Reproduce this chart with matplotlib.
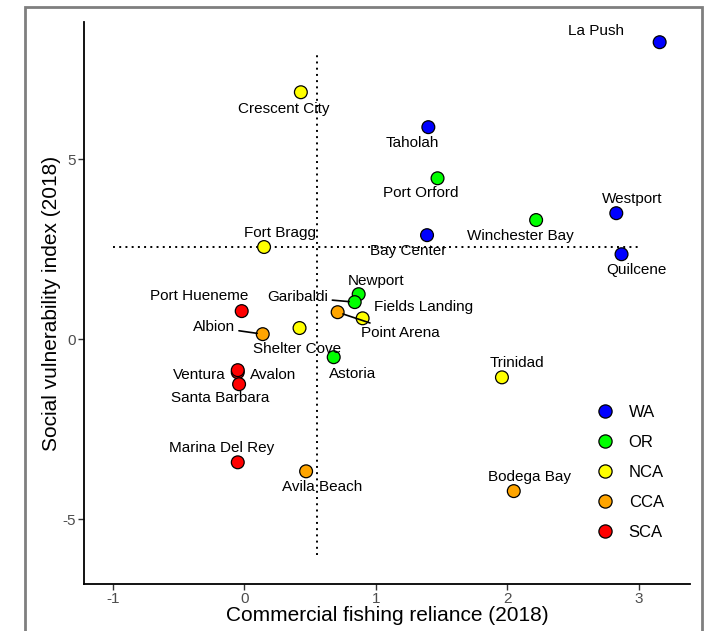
import numpy as np
import matplotlib
matplotlib.use("Agg")
import matplotlib.pyplot as plt
from matplotlib.patches import Rectangle
from matplotlib.lines import Line2D

plt.rcParams['font.family'] = ['Liberation Sans', 'DejaVu Sans']
plt.rcParams['axes.unicode_minus'] = False

# community, commercial fishing reliance, social vulnerability, region
names = ['La Push', 'Crescent City', 'Taholah', 'Port Orford', 'Westport',
         'Winchester Bay', 'Bay Center', 'Quilcene', 'Fort Bragg', 'Newport',
         'Garibaldi', 'Fields Landing', 'Point Arena', 'Port Hueneme', 'Albion',
         'Shelter Cove', 'Astoria', 'Avalon', 'Ventura', 'Santa Barbara',
         'Trinidad', 'Marina Del Rey', 'Avila Beach', 'Bodega Bay']
reliance = [3.16, 0.43, 1.40, 1.47, 2.83,
            2.22, 1.39, 2.87, 0.15, 0.87,
            0.84, 0.90, 0.71, -0.02, 0.14,
            0.42, 0.68, -0.05, -0.05, -0.04,
            1.96, -0.05, 0.47, 2.05]
vulnerability = [8.25, 6.86, 5.89, 4.47, 3.50,
                 3.31, 2.89, 2.36, 2.56, 1.25,
                 1.03, 0.58, 0.75, 0.78, 0.14,
                 0.31, -0.50, -0.92, -0.86, -1.25,
                 -1.06, -3.42, -3.67, -4.22]
region = ['WA', 'NCA', 'WA', 'OR', 'WA',
          'OR', 'WA', 'WA', 'NCA', 'OR',
          'OR', 'NCA', 'CCA', 'SCA', 'CCA',
          'NCA', 'OR', 'SCA', 'SCA', 'SCA',
          'NCA', 'SCA', 'CCA', 'CCA']

regions = ['WA', 'OR', 'NCA', 'CCA', 'SCA']
region_colors = {'WA': '#0000FF', 'OR': '#00FF00', 'NCA': '#FFFF00',
                 'CCA': '#FFA500', 'SCA': '#FF0000'}

# median split lines
x_split = 0.55
y_split = 2.55

# label offsets in pixels (dx, dy), some with leader lines
offsets = {
    'La Push': (-64, 11), 'Crescent City': (-17, -17), 'Taholah': (-16, -16),
    'Port Orford': (-17, -15), 'Westport': (16, 14), 'Winchester Bay': (-16, -16),
    'Bay Center': (-19, -16), 'Quilcene': (15, -16), 'Fort Bragg': (16, 14),
    'Newport': (17, 13), 'Garibaldi': (-57, 5), 'Fields Landing': (61, 11),
    'Point Arena': (63, -21), 'Port Hueneme': (-43, 15), 'Albion': (-49, 7),
    'Shelter Cove': (-2, -21), 'Astoria': (19, -17), 'Ventura': (-38, -5),
    'Avalon': (35, -3), 'Santa Barbara': (-19, -14), 'Trinidad': (15, 14),
    'Marina Del Rey': (-16, 14), 'Avila Beach': (16, -16), 'Bodega Bay': (16, 14),
}
leaders = ['Garibaldi', 'Point Arena', 'Albion']

fig = plt.figure(figsize=(7.07, 6.31), dpi=100)
ax = fig.add_axes([0.1188, 0.0745, 0.857, 0.89])

ax.plot([x_split, x_split], [-6, 8], color='black', lw=1.4, dashes=(1, 2.2), zorder=1)
ax.plot([-1, 3], [y_split, y_split], color='black', lw=1.4, dashes=(1, 2.2), zorder=1)

cols = [region_colors[r] for r in region]
ax.scatter(reliance, vulnerability, s=85, c=cols, edgecolors='black',
           linewidths=0.9, zorder=3)

for n, xv, yv in zip(names, reliance, vulnerability):
    dx, dy = offsets[n]
    kw = {}
    if n in leaders:
        kw['arrowprops'] = dict(arrowstyle='-', color='black', lw=1.2,
                                shrinkA=1, shrinkB=4)
    ax.annotate(n, (xv, yv), xytext=(dx, dy), textcoords='offset pixels',
                ha='center', va='center', fontsize=11, color='black',
                zorder=4, **kw)

ax.set_xlim(-1.22, 3.39)
ax.set_ylim(-6.8, 8.8)
ax.set_xticks([-1, 0, 1, 2, 3])
ax.set_yticks([-5, 0, 5])
ax.tick_params(colors='#333333', labelcolor='#4D4D4D', labelsize=11,
               length=4, width=1, pad=2)
for s in ['top', 'right']:
    ax.spines[s].set_visible(False)
for s in ['left', 'bottom']:
    ax.spines[s].set_linewidth(1.3)
ax.set_xlabel('Commercial fishing reliance (2018)', fontsize=15, labelpad=0)
ax.set_ylabel('Social vulnerability index (2018)', fontsize=15, labelpad=1)

handles = [Line2D([], [], marker='o', ls='', markersize=9.5,
                  markerfacecolor=region_colors[r], markeredgecolor='black',
                  markeredgewidth=0.9) for r in regions]
ax.legend(handles, regions, loc='upper left', bbox_to_anchor=(0.822, 0.345),
          frameon=False, fontsize=12, handlelength=1, handletextpad=0.9,
          labelspacing=0.9)

# outer frame
fig.add_artist(Rectangle((25 / 707, -0.05), 677 / 707, 1.05 - 7 / 631,
                         transform=fig.transFigure, fill=False,
                         edgecolor='#7F7F7F', lw=2))

fig.savefig('out.png', dpi=100)
